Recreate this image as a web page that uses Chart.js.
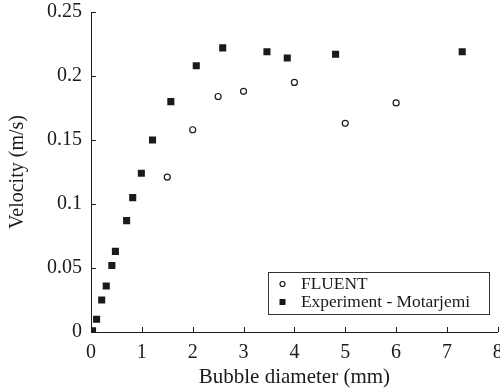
<!DOCTYPE html>
<html>
<head>
<meta charset="utf-8">
<script src="https://cdn.jsdelivr.net/npm/chart.js@4/dist/chart.umd.min.js"></script>
<style>
  html, body { margin: 0; padding: 0; background: #fff; overflow: hidden; }
  #wrap { width: 500px; height: 390px; position: relative; overflow: hidden; }
  #c { display: block; }
</style>
</head>
<body>
<div id="wrap"><canvas id="c" width="503" height="390"></canvas></div>
<script>
// ---- data ----
const fluentX = [1.5, 2.0, 2.5, 3.0, 4.0, 5.0, 6.0];
const fluentY = [0.121, 0.158, 0.184, 0.188, 0.195, 0.163, 0.179];
const expX = [0.03, 0.11, 0.21, 0.30, 0.41, 0.48, 0.70, 0.82, 0.99, 1.21, 1.57, 2.07, 2.59, 3.46, 3.86, 4.81, 7.30];
const expY = [0.001, 0.010, 0.025, 0.036, 0.052, 0.063, 0.087, 0.105, 0.124, 0.150, 0.180, 0.208, 0.222, 0.219, 0.214, 0.217, 0.219];
const xTicks = [0, 1, 2, 3, 4, 5, 6, 7, 8];
const yTicks = [0, 0.05, 0.1, 0.15, 0.2, 0.25];
const seriesNames = ['FLUENT', 'Experiment - Motarjemi'];
const xTitle = 'Bubble diameter (mm)';
const yTitle = 'Velocity (m/s)';

const FONT = 'Liberation Serif';
const INK = '#1a1a1a';

function pts(xs, ys) { return xs.map((x, i) => ({ x: x, y: ys[i] })); }
function fmtY(v) {
  if (v === 0) return '0';
  return String(+v.toFixed(2));
}

// inward tick marks + in-chart legend
const decor = {
  id: 'decor',
  afterDraw(chart) {
    const ctx = chart.ctx;
    const xs = chart.scales.x, ys = chart.scales.y;
    const a = chart.chartArea;
    ctx.save();
    ctx.strokeStyle = INK;
    ctx.lineWidth = 1;
    ctx.beginPath();
    xTicks.forEach(v => {
      const px = Math.round(xs.getPixelForValue(v)) + 0.5;
      ctx.moveTo(px, a.bottom);
      ctx.lineTo(px, a.bottom - 5);
    });
    yTicks.forEach(v => {
      const py = Math.round(ys.getPixelForValue(v)) + 0.5;
      ctx.moveTo(a.left, py);
      ctx.lineTo(a.left + 5, py);
    });
    ctx.stroke();

    // legend box
    const bx = 268.5, by = 272.5, bw = 221, bh = 42;
    ctx.fillStyle = '#fff';
    ctx.fillRect(bx, by, bw, bh);
    ctx.strokeStyle = '#333';
    ctx.strokeRect(bx, by, bw, bh);
    ctx.font = '17.4px "' + FONT + '"';
    ctx.textBaseline = 'middle';
    ctx.fillStyle = INK;
    const rows = [284, 302];
    chart.data.datasets.forEach((ds, i) => {
      const mx = 282.5, my = rows[i];
      ctx.save();
      if (ds.pointStyle === 'circle') {
        ctx.beginPath();
        ctx.arc(mx, my, 2.5, 0, Math.PI * 2);
        ctx.fillStyle = '#fff';
        ctx.fill();
        ctx.lineWidth = 1.2;
        ctx.strokeStyle = INK;
        ctx.stroke();
      } else {
        ctx.fillStyle = INK;
        ctx.fillRect(mx - 3, my - 3, 6, 6);
      }
      ctx.restore();
      ctx.fillStyle = INK;
      ctx.fillText(ds.label, 301, my + 0.5);
    });
    ctx.restore();
  }
};

new Chart(document.getElementById('c'), {
  type: 'scatter',
  data: {
    datasets: [
      { label: seriesNames[0], data: pts(fluentX, fluentY), pointStyle: 'circle', radius: 3, borderWidth: 1.2, borderColor: INK, backgroundColor: '#fff' },
      { label: seriesNames[1], data: pts(expX, expY), pointStyle: 'rect', radius: 5, borderWidth: 0, borderColor: INK, backgroundColor: INK }
    ]
  },
  options: {
    responsive: false,
    animation: false,
    events: [],
    layout: { padding: { top: 12, right: 2, left: 0, bottom: 0 } },
    plugins: { legend: { display: false }, tooltip: { enabled: false } },
    scales: {
      x: {
        type: 'linear', min: 0, max: 8,
        afterBuildTicks: s => { s.ticks = xTicks.map(v => ({ value: v })); },
        afterFit: s => { s.height = 58; s.paddingLeft = 0; s.paddingRight = 0; },
        grid: { display: true, drawOnChartArea: false, drawTicks: false },
        border: { display: true, color: INK, width: 1 },
        ticks: { color: INK, font: { family: FONT, size: 20 }, padding: 9, maxRotation: 0, callback: v => String(v) },
        title: { display: true, text: xTitle, color: INK, font: { family: FONT, size: 21 }, padding: { top: 0, bottom: 0 } }
      },
      y: {
        type: 'linear', min: 0, max: 0.25,
        afterBuildTicks: s => { s.ticks = yTicks.map(v => ({ value: v })); },
        afterFit: s => { s.width = 91; s.paddingTop = 0; s.paddingBottom = 0; },
        grid: { display: true, drawOnChartArea: false, drawTicks: false },
        border: { display: true, color: INK, width: 1 },
        ticks: { color: INK, font: { family: FONT, size: 20 }, padding: 9, callback: v => fmtY(v) },
        title: { display: true, text: yTitle, color: INK, font: { family: FONT, size: 20 }, padding: { top: 6, bottom: 0 } }
      }
    }
  },
  plugins: [decor]
});
</script>
</body>
</html>
